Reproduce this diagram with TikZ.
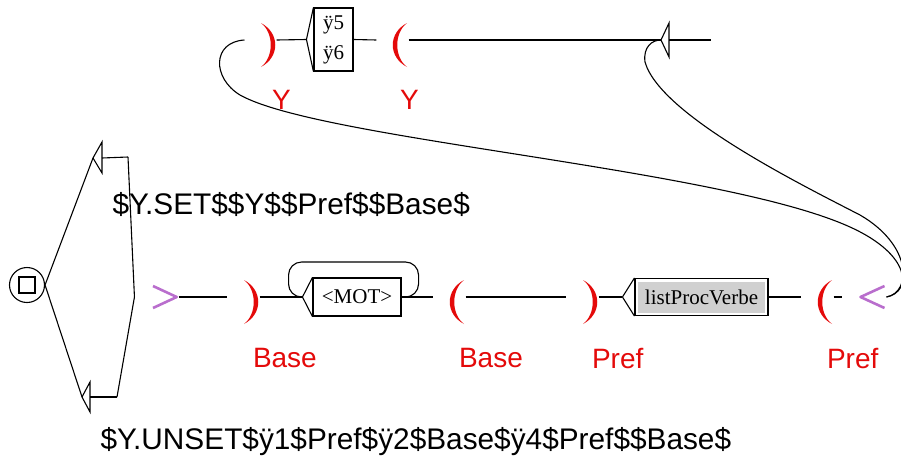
\documentclass[tikz,border=0pt]{standalone}
\usepackage{fontspec}
\setmainfont{Liberation Serif}
\setsansfont{Liberation Sans}
\usepackage{xcolor}
\definecolor{parred}{RGB}{228,10,10}
\definecolor{ctxpurple}{RGB}{185,110,205}
\definecolor{boxgray}{RGB}{208,208,208}

\begin{document}
\begin{tikzpicture}[x=1pt,y=-1pt]
        \tikzset{every path/.style={line width=1.1pt},
            boxnode/.style={draw, rectangle, inner sep=0, font=\fontsize{21}{30}\selectfont},
            greybox/.style={boxnode, path picture={\fill[boxgray] ([shift={(3pt,-3pt)}]path picture bounding box.north west)
                rectangle ([shift={(-3pt,3pt)}]path picture bounding box.south east);}},
            closepar/.style={minimum width=31, minimum height=60, inner sep=0,
                path picture={\fill[parred, shift={(path picture bounding box.center)}]
                (0.5,-17) .. controls (19.5,-7) and (19.5,17) .. (0.5,27) .. controls (13.5,17) and (13.5,-7) .. cycle;}},
            openpar/.style={minimum width=31, minimum height=60, inner sep=0,
                path picture={\fill[parred, shift={(path picture bounding box.center)}]
                (14.5,-17) .. controls (-4.5,-7) and (-4.5,17) .. (14.5,27) .. controls (1.5,17) and (1.5,-7) .. cycle;}},
            rightchev/.style={minimum width=43, minimum height=30, inner sep=0,
                path picture={\draw[ctxpurple, line width=2.6pt, line join=round, shift={(path picture bounding box.center)}]
                (-3.5,-11) -- (20.2,0) -- (-3.5,11);}},
            leftchev/.style={minimum width=43, minimum height=30, inner sep=0,
                path picture={\draw[ctxpurple, line width=2.6pt, line join=round, shift={(path picture bounding box.center)}]
                (20,-11) -- (-4,0) -- (20,11);}},
            parlabel/.style={text=parred, font=\sffamily\fontsize{28}{30}\selectfont, inner sep=0, anchor=west},
            outtext/.style={font=\sffamily\fontsize{29.8}{32}\selectfont, inner sep=0, anchor=west}}
        \useasboundingbox (0,0) rectangle (901,461);

        % initial state and its two boxes
        \node[draw, circle, minimum size=35, inner sep=0] (init) at (27,285) {};
        \node[draw, minimum size=16, inner sep=0] (initsq) at (init) {};
        \coordinate (setin) at (93,158);
        \coordinate (setout) at (128,157);
        \coordinate (unsetin) at (82,397);
        \coordinate (unsetout) at (117,397);
        \draw (setin) -- ++(9,-16) -- ++(0,31) -- cycle;
        \draw ([xshift=9pt]setin) -- (setout);
        \draw (unsetin) -- ++(8,-15) -- ++(0,30) -- cycle;
        \draw ([xshift=8pt]unsetin) -- (unsetout);
        \node[outtext] (settext) at (112,204) {\$Y.SET\$\$Y\$\$Pref\$\$Base\$};
        \node[outtext] (unsettext) at (100,442) {\$Y.UNSET\$ÿ1\$Pref\$ÿ2\$Base\$ÿ4\$Pref\$\$Base\$};

        % bottom row
        \node[rightchev] (gt) at (156.5,297) {};
        \node[closepar] (bclose) at (243.5,297) {};
        \node[boxnode, minimum width=88, minimum height=38] (mot) at (357,297) {<MOT>};
        \node[openpar] (bopen) at (449.5,297) {};
        \node[closepar] (pclose) at (582.5,297) {};
        \node[greybox, minimum width=133, minimum height=37] (lpv) at (701.5,297) {listProcVerbe};
        \node[openpar] (popen) at (817.5,297) {};
        \node[leftchev] (lt) at (864.5,297) {};
        \node[parlabel] (bcloselab) at ([xshift=25pt,yshift=-61pt]bclose.west) {Base};
        \node[parlabel] (bopenlab) at ([xshift=25pt,yshift=-61pt]bopen.west) {Base};
        \node[parlabel] (pcloselab) at ([xshift=25pt,yshift=-61pt]pclose.west) {Pref};
        \node[parlabel] (popenlab) at ([xshift=25pt,yshift=-61pt]popen.west) {Pref};

        % top row
        \node[closepar] (yclose) at (260.5,40) {};
        \node[boxnode, minimum width=39, minimum height=63, align=center] (yy) at (333.5,39.5) {ÿ5\\ÿ6};
        \node[openpar] (yopen) at (392.5,40) {};
        \coordinate (emptyin) at (661,40);
        \coordinate (emptyout) at (711,40);
        \node[parlabel] (ycloselab) at ([xshift=27pt,yshift=-60pt]yclose.west) {Y};
        \node[parlabel] (yopenlab) at ([xshift=23pt,yshift=-60pt]yopen.west) {Y};

        % box entries
        \draw (mot.north west) -- ([xshift=-10pt]mot.west) -- (mot.south west);
        \draw (lpv.north west) -- ([xshift=-12pt]lpv.west) -- (lpv.south west);
        \draw (yy.north west) -- ([xshift=-7pt]yy.west) -- (yy.south west);
        \draw (emptyin) -- ++(8,-17) -- ++(0,34) -- cycle;
        \draw ([xshift=8pt]emptyin) -- (emptyout);

        % transitions
        \draw (init.east) -- (setin);
        \draw (init.east) -- (unsetin);
        \draw (setout) -- (gt.west);
        \draw (unsetout) -- (gt.west);
        \draw (gt.east) -- (bclose.west);
        \draw (bclose.east) -- ([xshift=-10pt]mot.west);
        \draw[rounded corners=13] (mot.east) -- ++(17,0) -- ++(0,-35) -- ++(-130,0) -- ++(0,35) -- ([xshift=-10pt]mot.west);
        \draw (mot.east) -- (bopen.west);
        \draw (bopen.east) -- (pclose.west);
        \draw (pclose.east) -- ([xshift=-12pt]lpv.west);
        \draw (lpv.east) -- (popen.west);
        \draw (popen.east) -- (lt.west);
        \draw (yclose.east) -- ([xshift=-7pt]yy.west);
        \draw (yy.east) -- (yopen.west);
        \draw (yopen.east) -- (emptyin);
        \draw (lt.east) .. controls (912,292) and (912,255) .. (850,227)
            .. controls (720,168) and (320,140) .. (240,95)
            .. controls (212,78) and (212,42) .. (yclose.west);
        \draw (lt.east) .. controls (912,292) and (912,245) .. (860,215)
            .. controls (802,185) and (660,115) .. (645,62)
            .. controls (643,47) and (652,40) .. (emptyin);
\end{tikzpicture}
\end{document}
